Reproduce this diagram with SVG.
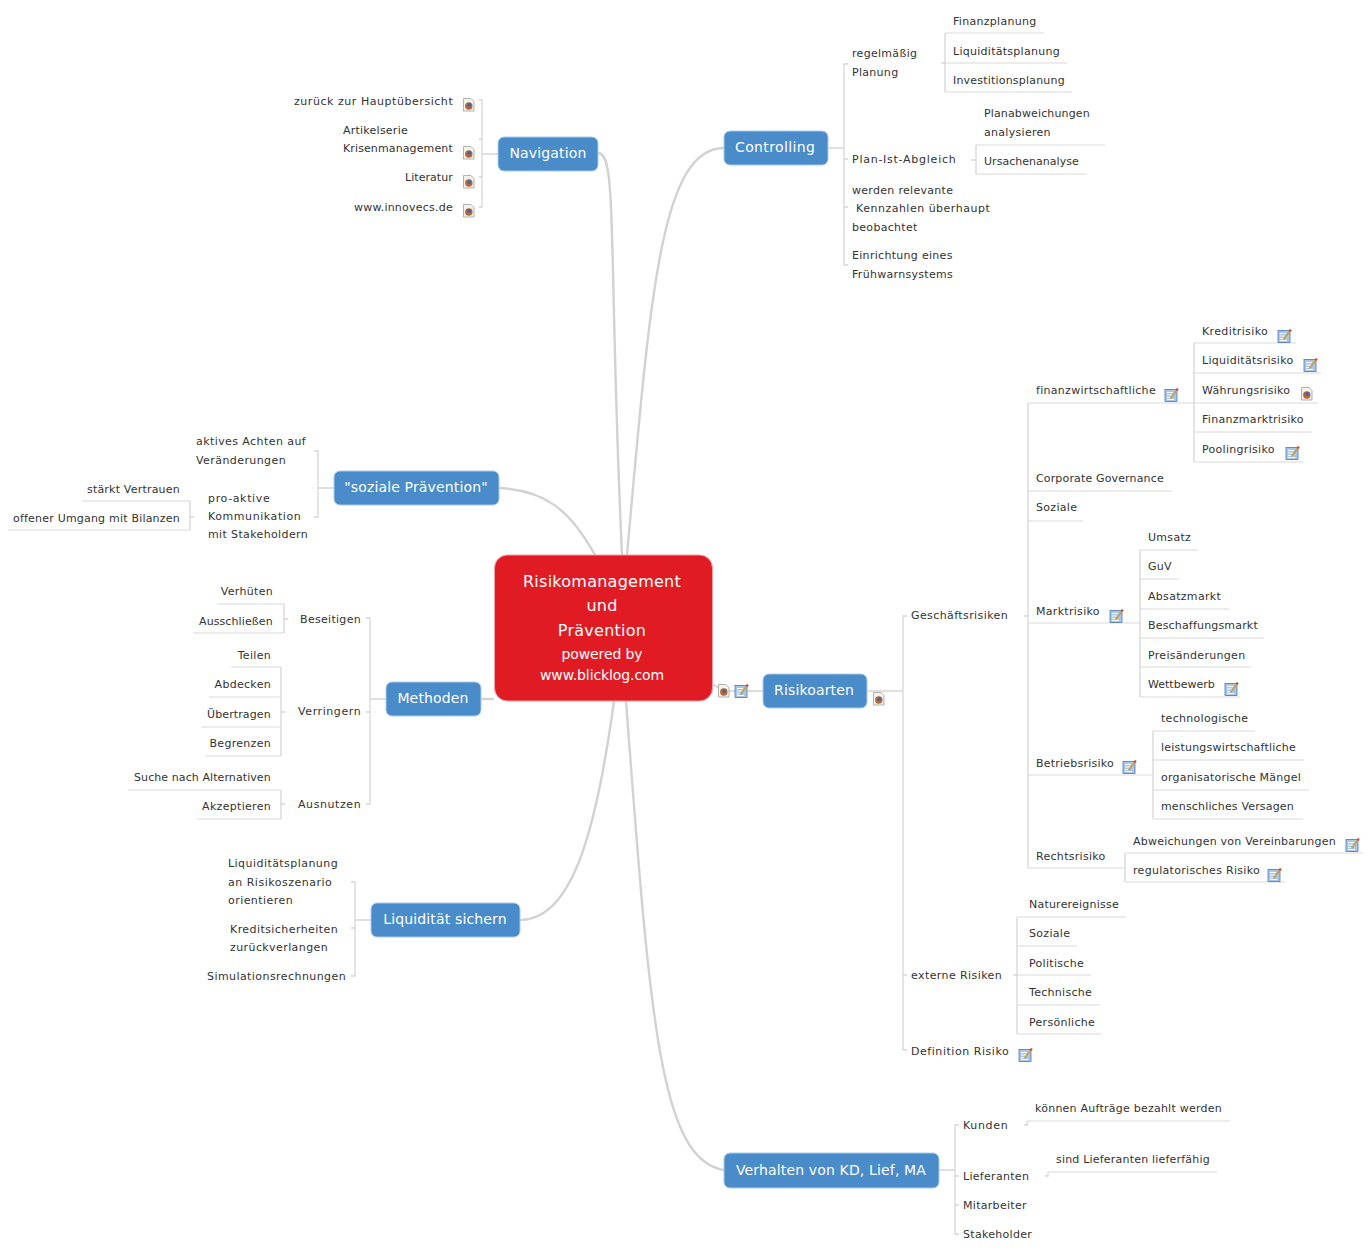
<svg xmlns="http://www.w3.org/2000/svg" width="1371" height="1255" viewBox="0 0 1371 1255">
<style>
text{font-family:"DejaVu Sans","Liberation Sans",sans-serif;font-size:11px;letter-spacing:.3px;fill:#333}
.e{text-anchor:end}
.m{text-anchor:middle}
.t{font-size:14px;fill:#fff;letter-spacing:.15px}
.c{font-size:16px;fill:#fff;letter-spacing:.25px}
.c2{font-size:14px;fill:#fff;letter-spacing:-.1px}
.topic{fill:#4a8cca;stroke:#a9cbe9;stroke-width:1}
.main{fill:none;stroke:#d2d2d2;stroke-width:2.4}
.br{fill:none;stroke:#d6d6d6;stroke-width:1.3}
.ul{fill:none;stroke:#d9d9d9;stroke-width:1}
</style>
<defs>
<g id="web"><path d="M.5 .5H8L11 3.500V13H.5Z" fill="#f4f2ec" stroke="#a0a0a0" stroke-width=".8"/><circle cx="5.800" cy="8" r="3.700" fill="#c2622c"/><circle cx="6.300" cy="7" r="1.900" fill="#3f6aa6"/></g>
<g id="note"><rect x="0" y="1.500" width="12" height="12" fill="#a9c6ea" stroke="#4a78b8" stroke-width=".8"/><path d="M2 4.500H8M2 7H7M2 9.500H6M2 11.500H9" stroke="#fff" stroke-width="1"/><path d="M5.500 10.500L11.500 2.500" stroke="#c9a040" stroke-width="1.800"/><circle cx="12.200" cy="1.500" r="1.200" fill="#d0402a"/></g>
</defs>
<g id="connectors">
<path class="main" d="M598 153C618 153 608 250 622 555"/>
<path class="main" d="M724 148C660 148 650 300 627 555"/>
<path class="main" d="M499 488C545 490 570 510 595 555"/>
<path class="main" d="M481 699H494"/>
<path class="main" d="M520 920C570 920 595 840 614 701"/>
<path class="main" d="M724 1170C660 1160 650 1020 626 701"/>
<path class="main" style="stroke-width:1.500" d="M712 684L724 691H763"/>
<path class="br" d="M479 100H482V207H479M479 139H482M479 177H482M482 154H498"/>
<path class="br" d="M828 148H844M848 64H844V265H848M844 159H848M844 207H848"/>
<path class="br" d="M941 63H945M945 33V92M971 160H976M976 145V174"/>
<path class="ul" d="M945 33H1044M945 63H1067M945 92H1072M976 145H1105M976 174H1087"/>
<path class="br" d="M867 691H903M907 616H903V1050H907M903 975H907"/>
<path class="br" d="M1024 616H1028M1028 403V868M1194 343V462M1140 550V697M1153 731V819M1125 853V882M1013 975H1017M1017 917V1034"/>
<path class="ul" d="M1028 403H1194M1028 491H1172M1028 521H1083M1028 623H1140M1028 775H1153M1028 868H1125"/>
<path class="ul" d="M1194 343H1296M1194 373H1321M1194 403H1318M1194 432H1312M1194 462H1303"/>
<path class="ul" d="M1140 550H1198M1140 579H1179M1140 609H1229M1140 638H1264M1140 667H1251M1140 697H1240"/>
<path class="ul" d="M1153 731H1255M1153 760H1304M1153 790H1309M1153 819H1303"/>
<path class="ul" d="M1125 853H1363M1125 882H1285"/>
<path class="ul" d="M1017 917H1126M1017 946H1077M1017 975H1091M1017 1005H1100M1017 1034H1101"/>
<path class="br" d="M939 1170H955M959 1125H955V1234H959M955 1176H959M955 1205H959"/>
<path class="br" d="M1024 1125H1027V1121M1045 1176H1048V1172"/>
<path class="ul" d="M1027 1121H1230M1048 1172H1217"/>
<path class="br" d="M334 488H318M314 451H318V517H314M194 517H190M190 501V530"/>
<path class="ul" d="M82 501H190M8 530H190"/>
<path class="br" d="M386 699H370M366 618H370V804H366M366 712H370M288 619H284M284 604V633M285 712H281M281 667V756M285 804H281M281 790V819"/>
<path class="ul" d="M217 604H284M193 633H284M231 667H281M209 697H281M201 727H281M205 756H281M128 790H281M197 819H281"/>
<path class="br" d="M371 920H355M351 882H355V976H351M351 928H355"/>
</g>
<g id="central"><rect x="494.500" y="555" width="218" height="146" rx="13" fill="#e01b24" stroke="#f0a0a0" stroke-width="1"/>
<text class="c m" x="602" y="587">Risikomanagement</text><text class="c m" x="602" y="611">und</text><text class="c m" x="602" y="636">Prävention</text><text class="c2 m" x="602" y="659">powered by</text><text class="c2 m" x="602" y="680">www.blicklog.com</text></g>
<g id="navigation"><rect class="topic" x="498" y="137" width="100" height="34" rx="6"/><text class="t m" x="548" y="158">Navigation</text></g>
<g id="n-haupt"><text class="e" x="453" y="105" textLength="159">zurück zur Hauptübersicht</text><use href="#web" x="463" y="98"/></g>
<g id="n-artikel"><text x="343" y="134" textLength="65">Artikelserie</text><text x="343" y="152" textLength="110">Krisenmanagement</text><use href="#web" x="463" y="146"/></g>
<g id="n-lit"><text class="e" x="453" y="181" textLength="48">Literatur</text><use href="#web" x="463" y="175"/></g>
<g id="n-www"><text class="e" x="453" y="211" textLength="99">www.innovecs.de</text><use href="#web" x="463" y="204"/></g>
<g id="controlling"><rect class="topic" x="724" y="131" width="104" height="34" rx="6"/><text class="t m" x="775" y="152" textLength="80">Controlling</text></g>
<g id="c-plan"><text x="852" y="57">regelmäßig</text><text x="852" y="76">Planung</text></g>
<g id="c-fin"><text x="953" y="25">Finanzplanung</text></g>
<g id="c-liq"><text x="953" y="55" textLength="107">Liquiditätsplanung</text></g>
<g id="c-inv"><text x="953" y="84" textLength="112">Investitionsplanung</text></g>
<g id="c-ist"><text x="852" y="163" textLength="104">Plan-Ist-Abgleich</text></g>
<g id="c-pa"><text x="984" y="117" textLength="106">Planabweichungen</text><text x="984" y="136">analysieren</text></g>
<g id="c-ur"><text x="984" y="165" textLength="95">Ursachenanalyse</text></g>
<g id="c-kz"><text x="852" y="194">werden relevante</text><text x="856" y="212" textLength="134">Kennzahlen überhaupt</text><text x="852" y="231">beobachtet</text></g>
<g id="c-fr"><text x="852" y="259">Einrichtung eines</text><text x="852" y="278">Frühwarnsystems</text></g>
<g id="soziale"><rect class="topic" x="334" y="471" width="165" height="34" rx="6"/><text class="t m" x="416" y="492">"soziale Prävention"</text></g>
<g id="s-a"><text x="196" y="445" textLength="110">aktives Achten auf</text><text x="196" y="464" textLength="90">Veränderungen</text></g>
<g id="s-p"><text x="208" y="502" textLength="62">pro-aktive</text><text x="208" y="520" textLength="93">Kommunikation</text><text x="208" y="538" textLength="100">mit Stakeholdern</text></g>
<g id="s-v"><text class="e" x="180" y="493" textLength="93">stärkt Vertrauen</text></g>
<g id="s-o"><text class="e" x="180" y="522" textLength="167">offener Umgang mit Bilanzen</text></g>
<g id="methoden"><rect class="topic" x="386" y="682" width="95" height="34" rx="6"/><text class="t m" x="433" y="703">Methoden</text></g>
<g id="m-bes"><text class="e" x="361" y="623">Beseitigen</text></g>
<g id="m-ver"><text class="e" x="273" y="595">Verhüten</text></g>
<g id="m-aus"><text class="e" x="273" y="625" textLength="74">Ausschließen</text></g>
<g id="m-vr"><text class="e" x="361" y="715" textLength="63">Verringern</text></g>
<g id="m-te"><text class="e" x="271" y="659">Teilen</text></g>
<g id="m-ab"><text class="e" x="271" y="688">Abdecken</text></g>
<g id="m-ub"><text class="e" x="271" y="718" textLength="64">Übertragen</text></g>
<g id="m-be"><text class="e" x="271" y="747">Begrenzen</text></g>
<g id="m-an"><text class="e" x="361" y="808" textLength="63">Ausnutzen</text></g>
<g id="m-su"><text class="e" x="271" y="781" textLength="137">Suche nach Alternativen</text></g>
<g id="m-ak"><text class="e" x="271" y="810">Akzeptieren</text></g>
<g id="liquiditaet"><rect class="topic" x="371" y="903" width="149" height="34" rx="6"/><text class="t m" x="445" y="924">Liquidität sichern</text></g>
<g id="l-1"><text x="228" y="867" textLength="110">Liquiditätsplanung</text><text x="228" y="886" textLength="104">an Risikoszenario</text><text x="228" y="904" textLength="65">orientieren</text></g>
<g id="l-2"><text x="230" y="933" textLength="108">Kreditsicherheiten</text><text x="230" y="951" textLength="98">zurückverlangen</text></g>
<g id="l-3"><text class="e" x="346" y="980" textLength="139">Simulationsrechnungen</text></g>
<g id="risikoarten"><rect class="topic" x="763" y="674" width="104" height="34" rx="6"/><text class="t m" x="814" y="695">Risikoarten</text><use href="#web" x="873" y="692"/></g>
<use id="i-web" href="#web" x="718" y="684"/><use id="i-note" href="#note" x="735" y="684"/>
<g id="r-ge"><text x="911" y="619" textLength="97">Geschäftsrisiken</text></g>
<g id="r-fi"><text x="1036" y="394">finanzwirtschaftliche</text><use href="#note" x="1165" y="388"/></g>
<g id="r-k"><text x="1202" y="335" textLength="66">Kreditrisiko</text><use href="#note" x="1278" y="329"/></g>
<g id="r-l"><text x="1202" y="364">Liquiditätsrisiko</text><use href="#note" x="1304" y="358"/></g>
<g id="r-w"><text x="1202" y="394">Währungsrisiko</text><use href="#web" x="1301" y="387"/></g>
<g id="r-fm"><text x="1202" y="423">Finanzmarktrisiko</text></g>
<g id="r-p"><text x="1202" y="453">Poolingrisiko</text><use href="#note" x="1286" y="446"/></g>
<g id="r-cg"><text x="1036" y="482" textLength="128">Corporate Governance</text></g>
<g id="r-so"><text x="1036" y="511">Soziale</text></g>
<g id="r-ma"><text x="1036" y="615">Marktrisiko</text><use href="#note" x="1110" y="609"/></g>
<g id="r-um"><text x="1148" y="541">Umsatz</text></g>
<g id="r-gu"><text x="1148" y="570">GuV</text></g>
<g id="r-ab"><text x="1148" y="600">Absatzmarkt</text></g>
<g id="r-be"><text x="1148" y="629" textLength="110">Beschaffungsmarkt</text></g>
<g id="r-pr"><text x="1148" y="659">Preisänderungen</text></g>
<g id="r-we"><text x="1148" y="688" textLength="67">Wettbewerb</text><use href="#note" x="1225" y="682"/></g>
<g id="r-bt"><text x="1036" y="767" textLength="78">Betriebsrisiko</text><use href="#note" x="1123" y="760"/></g>
<g id="r-te"><text x="1161" y="722">technologische</text></g>
<g id="r-le"><text x="1161" y="751" textLength="135">leistungswirtschaftliche</text></g>
<g id="r-or"><text x="1161" y="781" textLength="140">organisatorische Mängel</text></g>
<g id="r-me"><text x="1161" y="810" textLength="133">menschliches Versagen</text></g>
<g id="r-re"><text x="1036" y="860">Rechtsrisiko</text></g>
<g id="r-av"><text x="1133" y="845" textLength="203">Abweichungen von Vereinbarungen</text><use href="#note" x="1346" y="838"/></g>
<g id="r-rg"><text x="1133" y="874">regulatorisches Risiko</text><use href="#note" x="1268" y="868"/></g>
<g id="r-ex"><text x="911" y="979" textLength="91">externe Risiken</text></g>
<g id="r-na"><text x="1029" y="908" textLength="90">Naturereignisse</text></g>
<g id="r-s2"><text x="1029" y="937">Soziale</text></g>
<g id="r-po"><text x="1029" y="967">Politische</text></g>
<g id="r-tc"><text x="1029" y="996">Technische</text></g>
<g id="r-pe"><text x="1029" y="1026">Persönliche</text></g>
<g id="r-de"><text x="911" y="1055" textLength="98">Definition Risiko</text><use href="#note" x="1019" y="1048"/></g>
<g id="verhalten"><rect class="topic" x="724" y="1153" width="215" height="35" rx="6"/><text class="t m" x="831" y="1175">Verhalten von KD, Lief, MA</text></g>
<g id="v-ku"><text x="963" y="1129" textLength="45">Kunden</text></g>
<g id="v-ka"><text x="1035" y="1112" textLength="187">können Aufträge bezahlt werden</text></g>
<g id="v-li"><text x="963" y="1180">Lieferanten</text></g>
<g id="v-la"><text x="1056" y="1163" textLength="154">sind Lieferanten lieferfähig</text></g>
<g id="v-mi"><text x="963" y="1209">Mitarbeiter</text></g>
<g id="v-st"><text x="963" y="1238">Stakeholder</text></g>
</svg>
